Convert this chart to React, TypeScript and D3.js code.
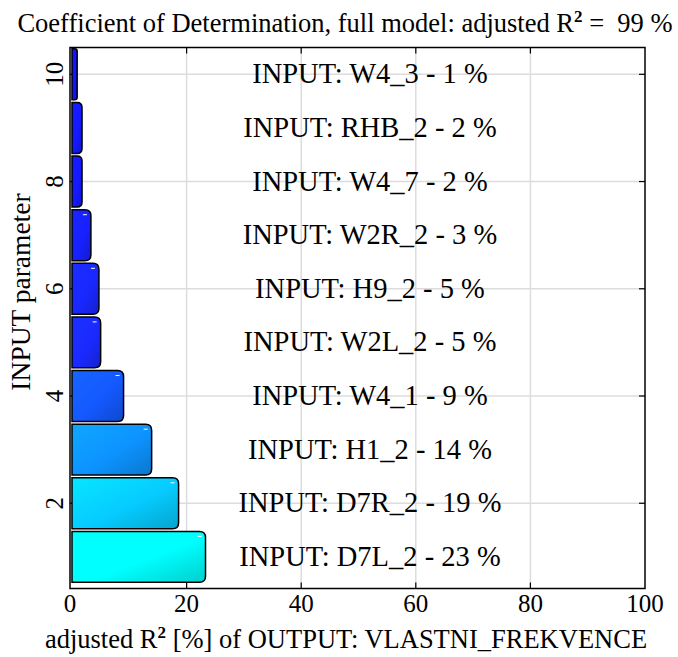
import React from "react";
import * as d3 from "d3";

// ---- data ----
const positions = [1, 2, 3, 4, 5, 6, 7, 8, 9, 10];
const inputNames = ["D7L_2", "D7R_2", "H1_2", "W4_1", "W2L_2", "H9_2", "W2R_2", "W4_7", "RHB_2", "W4_3"];
const r2Values = [23.3, 18.6, 13.9, 9.0, 5.0, 4.7, 3.3, 1.75, 1.75, 0.9];
const r2Labels = [23, 19, 14, 9, 5, 5, 3, 2, 2, 1];
const xTicks = [0, 20, 40, 60, 80, 100];
const yTicks = [2, 4, 6, 8, 10];
const fullModelR2 = 99;
const outputName = "VLASTNI_FREKVENCE";

const W = 678;
const H = 657;
const plot = { left: 70, right: 645, top: 47.5, bottom: 588.5 };
const FONT = '"Liberation Serif", "DejaVu Serif", serif';

export default function App() {
  const x = d3.scaleLinear().domain([0, 100]).range([72, plot.right]);
  const y = d3.scaleLinear().domain([0.41, 10.5]).range([plot.bottom, plot.top]);
  const bandH = Math.abs(y(0) - y(0.95));
  const color = d3
    .scaleLinear<string>()
    .domain([0, 5, 23])
    .range(["#1010ff", "#1a2aff", "#00ffff"])
    .clamp(true);

  const barPath = (v: number, p: number) => {
    const x0 = x(0);
    const x1 = x(v);
    const y0 = y(p) - bandH / 2;
    const y1 = y(p) + bandH / 2;
    const r = Math.min(6, (x1 - x0) / 2);
    return `M${x0},${y0} H${x1 - r} Q${x1},${y0} ${x1},${y0 + r} V${y1 - r} Q${x1},${y1} ${x1 - r},${y1} H${x0} Z`;
  };

  const tickLen = 6;
  const ts = { fontFamily: FONT, whiteSpace: "pre" as const };

  return (
    <svg
      width={W}
      height={H}
      style={{ position: "absolute", left: 0, top: 0, background: "#fff", fontFamily: FONT }}
    >
      <defs>
        {positions.map((p, i) => {
          const c = d3.color(color(r2Values[i]))!;
          return (
            <linearGradient key={p} id={`g${i}`} x1="0" y1="0" x2="1" y2="1">
              <stop offset="0%" stopColor={c.brighter(0.35).formatHex()} />
              <stop offset="55%" stopColor={c.formatHex()} />
              <stop offset="100%" stopColor={c.darker(0.6).formatHex()} />
            </linearGradient>
          );
        })}
      </defs>
      <rect x={0} y={0} width={W} height={H} fill="#fff" />

      {/* grid */}
      {xTicks.slice(1, -1).map((t) => (
        <line key={`gx${t}`} x1={x(t)} x2={x(t)} y1={plot.top} y2={plot.bottom} stroke="#dcdcdc" strokeWidth={1.5} />
      ))}
      {yTicks.map((t) => (
        <line key={`gy${t}`} x1={plot.left} x2={plot.right} y1={y(t)} y2={y(t)} stroke="#dcdcdc" strokeWidth={1.5} />
      ))}

      {/* ticks */}
      {xTicks.slice(1, -1).map((t) => (
        <g key={`tx${t}`} stroke="#000" strokeWidth={1.2}>
          <line x1={x(t)} x2={x(t)} y1={plot.bottom} y2={plot.bottom - tickLen} />
          <line x1={x(t)} x2={x(t)} y1={plot.top} y2={plot.top + tickLen} />
        </g>
      ))}
      {yTicks.map((t) => (
        <g key={`ty${t}`} stroke="#000" strokeWidth={1.2}>
          <line x1={plot.left} x2={plot.left + tickLen} y1={y(t)} y2={y(t)} />
          <line x1={plot.right} x2={plot.right - tickLen} y1={y(t)} y2={y(t)} />
        </g>
      ))}

      {/* bars */}
      {positions.map((p, i) => {
        const v = r2Values[i];
        const x1 = x(v);
        const yt = y(p) - bandH / 2;
        return (
          <g key={`b${p}`}>
            <path d={barPath(v, p)} fill={`url(#g${i})`} stroke="#000" strokeWidth={1.5} />
            {x1 - x(0) > 12 && (
              <line x1={x1 - 8} x2={x1 - 4} y1={yt + 5} y2={yt + 5} stroke="#fff" strokeWidth={1} />
            )}
          </g>
        );
      })}

      {/* bar labels */}
      {positions.map((p, i) => (
        <text key={`l${p}`} x={x(52)} y={y(p) + 9} textAnchor="middle" fontSize={28.5} fill="#000" style={ts}>
          {`INPUT: ${inputNames[i]} - ${r2Labels[i]} %`}
        </text>
      ))}

      {/* frame */}
      <rect
        x={plot.left}
        y={plot.top}
        width={plot.right - plot.left}
        height={plot.bottom - plot.top}
        fill="none"
        stroke="#000"
        strokeWidth={1.5}
      />

      {/* x tick labels */}
      {xTicks.map((t) => (
        <text key={`xl${t}`} x={t === 0 ? plot.left : x(t)} y={612} textAnchor="middle" fontSize={25} style={ts}>
          {t}
        </text>
      ))}
      {/* y tick labels */}
      {yTicks.map((t) => (
        <text
          key={`yl${t}`}
          transform={`translate(${63},${y(t)}) rotate(-90)`}
          textAnchor="middle"
          fontSize={25}
          style={ts}
        >
          {t}
        </text>
      ))}

      {/* axis titles */}
      <text x={346} y={648} textAnchor="middle" fontSize={26.5} style={ts}>
        adjusted R
        <tspan fontWeight="bold" fontSize={17} dy={-10}>2</tspan>
        <tspan dy={10}>{` [%] of OUTPUT: ${outputName}`}</tspan>
      </text>
      <text transform={`translate(${30},${292}) rotate(-90)`} textAnchor="middle" fontSize={27.5} style={ts}>
        INPUT parameter
      </text>

      {/* title */}
      <text x={345} y={32} textAnchor="middle" fontSize={26.5} style={ts}>
        Coefficient of Determination, full model: adjusted R
        <tspan fontWeight="bold" fontSize={17} dy={-10}>2</tspan>
        <tspan dy={10}>{` =  ${fullModelR2} %`}</tspan>
      </text>
    </svg>
  );
}
